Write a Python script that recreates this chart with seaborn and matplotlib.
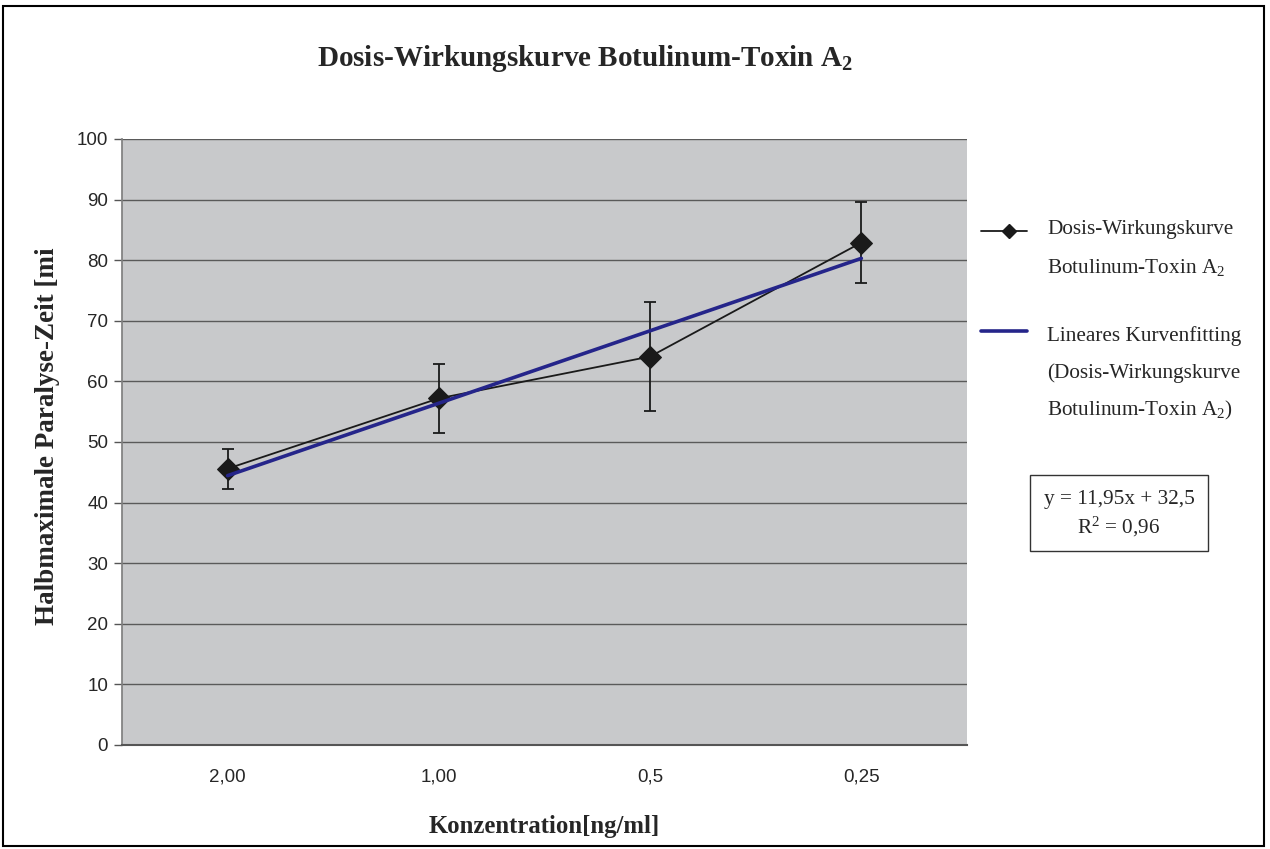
import matplotlib
matplotlib.use("Agg")
import matplotlib.pyplot as plt
import seaborn as sns
import pandas as pd
from matplotlib.lines import Line2D
from matplotlib.patches import Rectangle

categories = ["2,00", "1,00", "0,5", "0,25"]
paralyse_zeit = [45.6, 57.2, 64.1, 82.9]
fehler = [3.3, 5.7, 9.0, 6.7]
fit_werte = [44.45, 56.4, 68.35, 80.3]
y_ticks = [0, 10, 20, 30, 40, 50, 60, 70, 80, 90, 100]

sns.set_theme(style="white")
plt.rcParams["mathtext.default"] = "regular"
plt.rcParams["mathtext.fontset"] = "custom"
plt.rcParams["mathtext.rm"] = "Liberation Serif"
plt.rcParams["mathtext.bf"] = "Liberation Serif:bold"
serif = ["Liberation Serif", "DejaVu Serif"]
sans = ["Liberation Sans", "DejaVu Sans"]

W, H = 1270, 849
def fx(px):
    return px / W
def fy(py):
    return 1 - py / H

pos = list(range(len(categories)))
df = pd.DataFrame({"pos": pos, "wert": paralyse_zeit, "fit": fit_werte})

fig = plt.figure(figsize=(12.7, 8.49), dpi=100)
fig.patch.set_facecolor("white")
ax = fig.add_axes([0.0961, 0.1225, 0.6653, 0.7138])
ax.set_facecolor("#C8C9CB")

for yv in y_ticks[1:]:
    ax.axhline(yv, color="#5a5a5a", lw=1.0, zorder=1)

ax.errorbar(df["pos"], df["wert"], yerr=fehler, fmt="none", ecolor="#1a1a1a",
            elinewidth=1.3, capsize=4.5, capthick=1.3, zorder=3)
sns.lineplot(data=df, x="pos", y="wert", ax=ax, color="#1a1a1a", lw=1.3,
             marker="D", markersize=11, markeredgecolor="#1a1a1a", zorder=4)
sns.lineplot(data=df, x="pos", y="fit", ax=ax, color="#25258a", lw=2.6, zorder=5)

ax.set_xlim(-0.5, 3.5)
ax.set_ylim(0, 100)
ax.set_yticks(y_ticks)
ax.set_yticklabels([str(v) for v in y_ticks], fontfamily=sans, fontsize=13.5)
ax.set_xticks([-0.5, 0.5, 1.5, 2.5, 3.5])
ax.set_xticklabels([])
ax.set_xticks(pos, minor=True)
ax.set_xticklabels(categories, minor=True, fontfamily=sans, fontsize=13.5)
ax.tick_params(axis="x", which="major", length=6, width=1, color="#555555", direction="out")
ax.tick_params(axis="x", which="minor", length=0, pad=17)
ax.tick_params(axis="y", length=6, width=1, color="#555555", direction="out", pad=4, left=True)
for s in ["top", "right"]:
    ax.spines[s].set_visible(False)
ax.spines["left"].set_color("#808080")
ax.spines["bottom"].set_color("#555555")
ax.spines["bottom"].set_linewidth(1.5)

ax.set_xlabel("Konzentration[ng/ml]", fontfamily=serif, fontweight="bold", fontsize=17.8, labelpad=21)
ax.set_ylabel("Halbmaximale Paralyse-Zeit [mi", fontfamily=serif, fontweight="bold", fontsize=19.5,
              labelpad=12, y=0.51)

fig.text(fx(585), fy(58), r"Dosis-Wirkungskurve Botulinum-Toxin A$_\mathbf{2}$", ha="center", va="center",
         fontfamily=serif, fontweight="bold", fontsize=21)

# legend (drawn manually to match layout)
lfont = dict(fontfamily=serif, fontsize=15.3, va="center", ha="left")
fig.add_artist(Line2D([fx(981), fx(1027)], [fy(231), fy(231)], color="#1a1a1a", lw=1.3,
                      transform=fig.transFigure))
fig.add_artist(Line2D([fx(1009)], [fy(231)], color="#1a1a1a", marker="D", markersize=7,
                      transform=fig.transFigure))
fig.text(fx(1047), fy(230), "Dosis-Wirkungskurve", **lfont)
fig.text(fx(1047), fy(268), "Botulinum-Toxin A$_2$", **lfont)
fig.add_artist(Line2D([fx(981), fx(1027)], [fy(331), fy(331)], color="#25258a", lw=2.6,
                      transform=fig.transFigure))
fig.text(fx(1047), fy(336), "Lineares Kurvenfitting", **lfont)
fig.text(fx(1047), fy(373), "(Dosis-Wirkungskurve", **lfont)
fig.text(fx(1047), fy(410), "Botulinum-Toxin A$_2$)", **lfont)

fig.add_artist(Rectangle((fx(1030), fy(551)), fx(1208) - fx(1030), fy(475) - fy(551),
                         transform=fig.transFigure, fill=True, fc="white", ec="#333333", lw=1))
fig.text(fx(1119), fy(500), "y = 11,95x + 32,5", ha="center", va="center",
         fontfamily=serif, fontsize=15.3)
fig.text(fx(1119), fy(527), "R$^2$ = 0,96", ha="center", va="center",
         fontfamily=serif, fontsize=15.3)

fig.add_artist(Rectangle((fx(3), fy(846)), fx(1264) - fx(3), fy(6) - fy(846),
                         transform=fig.transFigure, fill=False, ec="black", lw=1.5))

fig.savefig("out.png", dpi=100)
